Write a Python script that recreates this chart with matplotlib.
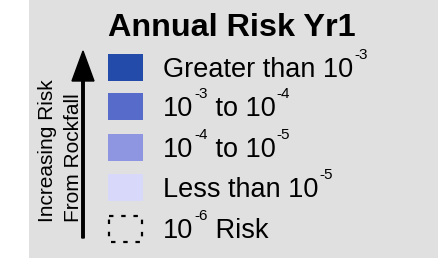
import matplotlib
matplotlib.use("Agg")
from matplotlib import pyplot as plt
from matplotlib.patches import Rectangle, FancyArrow

plt.rcParams['font.family'] = ['Liberation Sans', 'DejaVu Sans']

title = "Annual Risk Yr1"
colors = ['#234ba9', '#566bca', '#8e96e2', '#d8d8fb']
# each label is a list of (text, is_superscript) pieces
labels = [
    [("Greater than 10", False), ("-3", True)],
    [("10", False), ("-3", True), (" to 10", False), ("-4", True)],
    [("10", False), ("-4", True), (" to 10", False), ("-5", True)],
    [("Less than 10", False), ("-5", True)],
]
dotted_label = [("10", False), ("-6", True), (" Risk", False)]
side_text = ["Increasing Risk", "From Rockfall"]

W, H = 438, 258
fig = plt.figure(figsize=(W / 100, H / 100), dpi=100)
fig.patch.set_facecolor('white')
ax = fig.add_axes([0, 0, 1, 1])
ax.set_xlim(0, W)
ax.set_ylim(H, 0)
ax.axis('off')

ax.add_patch(Rectangle((29, 0), W - 29, H, facecolor='#e0e0e0', edgecolor='none'))

ax.text(108, 36, title, fontsize=23.3, fontweight='bold', ha='left', va='baseline')

fig.canvas.draw()
renderer = fig.canvas.get_renderer()
inv = ax.transData.inverted()


def draw_pieces(x, y, pieces, size=19.5, sup_size=11):
    for txt, sup in pieces:
        if sup:
            t = ax.text(x + 1, y - 18, txt, fontsize=sup_size, ha='left', va='baseline')
        else:
            t = ax.text(x, y, txt, fontsize=size, ha='left', va='baseline')
        bb = t.get_window_extent(renderer)
        x = inv.transform((bb.x1, bb.y0))[0]


row_y = [54, 93, 134, 174, 215]
sq_x, sq_w, sq_h = 108, 35, 27
for i, (c, lab) in enumerate(zip(colors, labels)):
    ax.add_patch(Rectangle((sq_x, row_y[i]), sq_w, sq_h, facecolor=c, edgecolor='none'))
    draw_pieces(163, row_y[i] + 23, lab)

ax.add_patch(Rectangle((sq_x + 1, row_y[4] + 1), sq_w - 2, sq_h - 1, facecolor='none',
                       edgecolor='black', linewidth=1.6, linestyle=(0, (2, 3.5))))
draw_pieces(163, row_y[4] + 23, dotted_label)

ax.add_patch(FancyArrow(83, 238, 0, -187, width=2.5, head_width=22, head_length=30,
                        length_includes_head=True, color='black'))

for xb, s in zip([53, 79], side_text):
    ax.text(xb, 222, s, fontsize=15, rotation=90, rotation_mode='anchor',
            ha='left', va='baseline')

fig.savefig('out.png', dpi=100)
